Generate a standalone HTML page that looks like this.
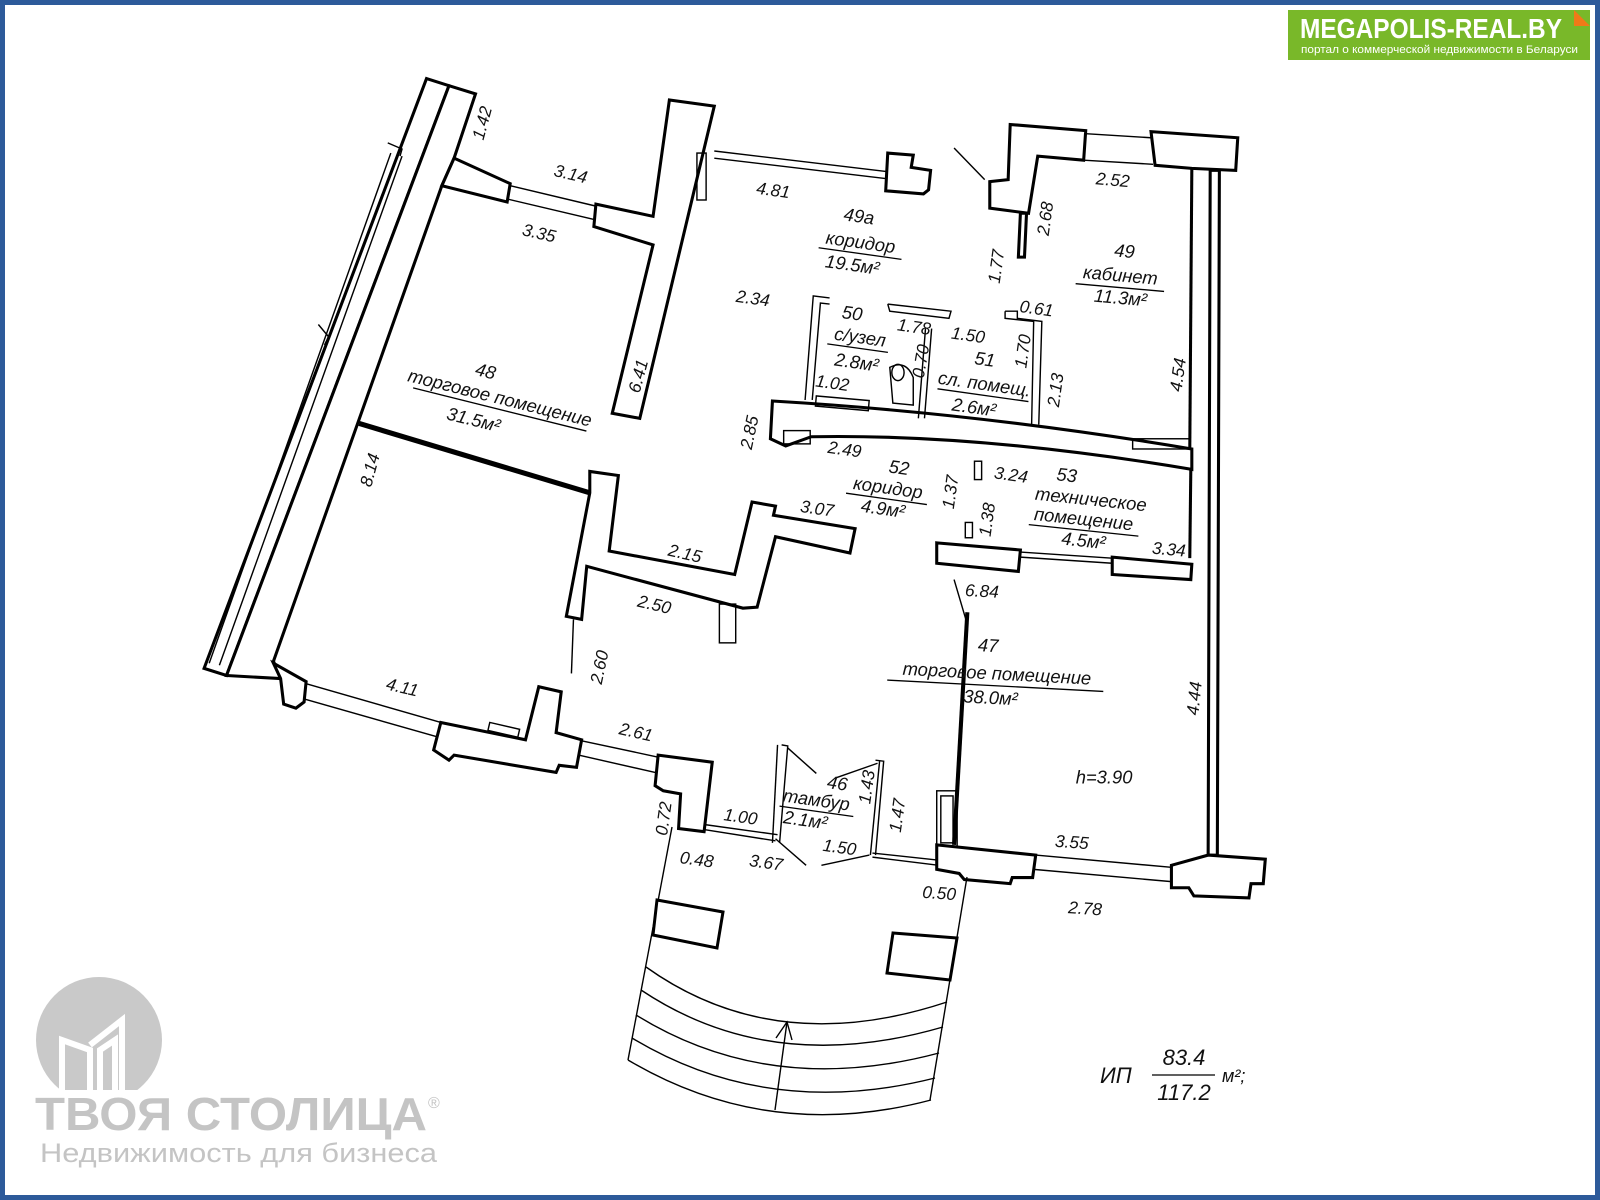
<!DOCTYPE html>
<html><head><meta charset="utf-8"><style>
html,body{margin:0;padding:0;background:#fff}
svg{display:block}
.w{fill:#fff;stroke:#000;stroke-width:3;stroke-linejoin:miter}
.t{fill:none;stroke:#000;stroke-width:1.4}
text{font-family:"Liberation Sans","DejaVu Sans",sans-serif;font-style:italic;fill:#111}
.d{font-size:17px}
.r{font-size:18px}
text.bn{fill:#fff;font-style:normal}
text.lg{fill:#c4c4c4;font-style:normal}
</style></head><body>
<svg width="1600" height="1200" viewBox="0 0 1600 1200" xmlns="http://www.w3.org/2000/svg">
<rect x="0" y="0" width="1600" height="1200" fill="#fff"/>
<rect x="2.5" y="2.5" width="1595" height="1195" fill="none" stroke="#2d5a9a" stroke-width="5"/>

<g transform="scale(1.0204)">
<polygon class="w" points="418,77 440,84 222,662 200,655"/>
<polygon class="w" points="440,84 466,92 445,155 433,182 268,648 275,665 222,662"/>
<line class="t" x1="383" y1="150" x2="205" y2="650"/>
<line class="t" x1="394" y1="153" x2="215" y2="652"/>
<polyline class="t" points="380,140 394,146 392,153"/>
<polyline class="t" points="312,318 322,330 318,338"/>
<polygon class="w" points="445,155 500,180 497,198 433,182"/>
<line class="t" x1="500" y1="182" x2="584" y2="202"/>
<line class="t" x1="497" y1="195" x2="582" y2="215"/>
<polygon class="w" points="584,200 640,212 656,98 700,104 627,410 600,405 640,240 582,222"/>
<line x1="352" y1="415" x2="578" y2="483" stroke="#000" stroke-width="5"/>
<polygon class="w" points="578,462 606,466 597,540 720,563 737,492 760,496 758,505 838,518 833,542 760,526 742,595 728,596 575,555 570,607 555,604 578,483"/>
<rect class="t" x="705" y="592" width="16" height="38"/>
<line class="t" x1="562" y1="607" x2="560" y2="660"/>
<polygon class="w" points="268,650 300,668 298,688 290,694 278,690 275,665"/>
<line class="t" x1="300" y1="670" x2="432" y2="708"/>
<line class="t" x1="298" y1="685" x2="428" y2="722"/>
<polygon class="w" points="432,708 515,725 528,673 550,678 545,718 570,725 565,752 548,750 545,757 445,740 440,745 425,735"/>
<rect class="t" x="480" y="708" width="30" height="8" transform="rotate(13 480 708)"/>
<line class="t" x1="570" y1="726" x2="645" y2="742"/>
<line class="t" x1="567" y1="740" x2="642" y2="757"/>
<polygon class="w" points="645,740 698,747 690,815 665,812 667,778 650,775 642,770"/>
<line class="t" x1="690" y1="808" x2="762" y2="818"/>
<line class="t" x1="690" y1="813" x2="760" y2="824"/>
<polyline class="t" points="766,730 772,731 764,826"/>
<polyline class="t" points="762,730 757,826"/>
<line class="t" x1="772" y1="733" x2="800" y2="758"/>
<line class="t" x1="820" y1="762" x2="860" y2="748"/>
<polyline class="t" points="858,745 866,746 858,838"/>
<line class="t" x1="862" y1="746" x2="853" y2="838"/>
<line class="t" x1="855" y1="836" x2="920" y2="843"/>
<line class="t" x1="855" y1="840" x2="920" y2="848"/>
<line class="t" x1="760" y1="822" x2="790" y2="848"/>
<line class="t" x1="805" y1="848" x2="852" y2="838"/>
<rect class="t" x="918" y="775" width="20" height="55"/>
<rect class="t" x="922" y="780" width="12" height="46"/>
<polygon class="w" points="918,828 1015,838 1012,860 992,860 990,866 945,862 940,856 918,852"/>
<line x1="948" y1="600" x2="935" y2="828" stroke="#000" stroke-width="4"/>
<line class="t" x1="935" y1="568" x2="948" y2="612"/>
<polygon class="w" points="918,532 1000,539 998,560 918,552"/>
<line class="t" x1="1000" y1="541" x2="1090" y2="547"/>
<line class="t" x1="1000" y1="546" x2="1090" y2="552"/>
<polygon class="w" points="1090,546 1168,553 1167,568 1090,563"/>
<line x1="1167" y1="460" x2="1166" y2="547" stroke="#000" stroke-width="3"/>
<polygon class="w" points="1186,167 1195,167 1193,838 1184,838"/>
<line class="t" x1="1015" y1="838" x2="1148" y2="850"/>
<line class="t" x1="1013" y1="852" x2="1148" y2="864"/>
<polygon class="w" points="1148,848 1184,838 1240,842 1238,866 1226,866 1224,880 1170,878 1165,870 1148,870"/>
<polygon class="w" points="990,122 1064,128 1062,157 1017,153 1008,209 970,204 970,178 988,176"/>
<line class="t" x1="1064" y1="131" x2="1128" y2="135"/>
<line class="t" x1="1062" y1="157" x2="1130" y2="161"/>
<polygon class="w" points="1128,129 1213,135 1211,167 1168,165 1132,162"/>
<line x1="1168" y1="165" x2="1166" y2="440" stroke="#000" stroke-width="3"/>
<polygon class="w" points="1000,209 1006,209 1004,252 998,252"/>
<line class="t" x1="935" y1="145" x2="965" y2="176"/>
<line class="t" x1="700" y1="148" x2="868" y2="168"/>
<line class="t" x1="700" y1="155" x2="868" y2="175"/>
<rect class="t" x="683" y="150" width="9" height="46"/>
<polygon class="w" points="870,150 895,152 893,164 912,167 910,186 905,190 868,187"/>
<path class="w" d="M757,393 Q960,405 1168,440 L1168,460 Q960,425 795,428 L770,437 L755,430 Z"/>
<rect class="t" x="768" y="422" width="26" height="13"/>
<rect class="t" x="1110" y="430" width="56" height="10"/>
<polyline class="t" points="813,292 797,290 789,392"/>
<polyline class="t" points="813,298 804,297 796,392"/>
<polyline class="t" points="870,298 932,305 930,312 872,305 870,298"/>
<polyline class="t" points="907,322 900,410"/>
<polyline class="t" points="913,322 906,410"/>
<polyline class="t" points="985,305 997,305 997,312 1021,315 1018,416"/>
<polyline class="t" points="985,305 985,312 1013,315 1011,416"/>
<path class="t" d="M872,360 L875,395 L895,397 L895,370 Q888,352 872,360 Z"/>
<ellipse class="t" cx="880" cy="365" rx="6" ry="8"/>
<rect class="t" x="800" y="388" width="52" height="10" transform="rotate(5 800 388)"/>
<rect class="t" x="955" y="452" width="7" height="18"/>
<rect class="t" x="946" y="512" width="7" height="15"/>

<text class="d" transform="translate(478,122) rotate(-75)" text-anchor="middle">1.42</text>
<text class="d" transform="translate(558,176) rotate(13)" text-anchor="middle">3.14</text>
<text class="d" transform="translate(527,234) rotate(13)" text-anchor="middle">3.35</text>
<text class="d" transform="translate(757,192) rotate(8)" text-anchor="middle">4.81</text>
<g transform="rotate(8 840 240)">
<text class="r" x="838" y="218" text-anchor="middle">49а</text>
<text class="r" x="843" y="243" text-anchor="middle">коридор</text>
<line x1="803" y1="248" x2="885" y2="248" stroke="#000" stroke-width="1.3"/>
<text class="r" x="838" y="266" text-anchor="middle">19.5м²</text>
</g>
<text class="d" transform="translate(737,298) rotate(8)" text-anchor="middle">2.34</text>
<g transform="rotate(8 840 330)">
<text class="r" x="832" y="314" text-anchor="middle">50</text>
<text class="r" x="843" y="336" text-anchor="middle">с/узел</text>
<line x1="812" y1="341" x2="872" y2="341" stroke="#000" stroke-width="1.3"/>
<text class="r" x="843" y="361" text-anchor="middle">2.8м²</text>
</g>
<text class="d" transform="translate(895,326) rotate(8)" text-anchor="middle">1.78</text>
<text class="d" transform="translate(815,381) rotate(8)" text-anchor="middle">1.02</text>
<text class="d" transform="translate(908,355) rotate(-80)" text-anchor="middle">0.70</text>
<text class="d" transform="translate(948,334) rotate(8)" text-anchor="middle">1.50</text>
<g transform="rotate(8 962 375)">
<text class="r" x="962" y="358" text-anchor="middle">51</text>
<text class="r" x="965" y="382" text-anchor="middle">сл. помещ.</text>
<line x1="920" y1="387" x2="1010" y2="387" stroke="#000" stroke-width="1.3"/>
<text class="r" x="958" y="406" text-anchor="middle">2.6м²</text>
</g>
<text class="d" transform="translate(1015,308) rotate(8)" text-anchor="middle">0.61</text>
<text class="d" transform="translate(1008,345) rotate(-82)" text-anchor="middle">1.70</text>
<text class="d" transform="translate(1040,383) rotate(-82)" text-anchor="middle">2.13</text>
<text class="d" transform="translate(982,262) rotate(-82)" text-anchor="middle">1.77</text>
<text class="d" transform="translate(1030,215) rotate(-82)" text-anchor="middle">2.68</text>
<text class="d" transform="translate(1090,182) rotate(5)" text-anchor="middle">2.52</text>
<g transform="rotate(5 1100 270)">
<text class="r" x="1100" y="252" text-anchor="middle">49</text>
<text class="r" x="1098" y="276" text-anchor="middle">кабинет</text>
<line x1="1055" y1="282" x2="1142" y2="282" stroke="#000" stroke-width="1.3"/>
<text class="r" x="1100" y="298" text-anchor="middle">11.3м²</text>
</g>
<text class="d" transform="translate(1160,368) rotate(-82)" text-anchor="middle">4.54</text>
<text class="d" transform="translate(631,370) rotate(-75)" text-anchor="middle">6.41</text>
<g transform="rotate(14 490 390)">
<text class="r" x="470" y="374" text-anchor="middle">48</text>
<text class="r" x="490" y="396" text-anchor="middle">торговое помещение</text>
<line x1="405" y1="401" x2="580" y2="401" stroke="#000" stroke-width="1.3"/>
<text class="r" x="470" y="423" text-anchor="middle">31.5м²</text>
</g>
<text class="d" transform="translate(368,462) rotate(-75)" text-anchor="middle">8.14</text>
<text class="d" transform="translate(740,425) rotate(-78)" text-anchor="middle">2.85</text>
<text class="d" transform="translate(827,446) rotate(8)" text-anchor="middle">2.49</text>
<g transform="rotate(8 870 480)">
<text class="r" x="878" y="463" text-anchor="middle">52</text>
<text class="r" x="870" y="484" text-anchor="middle">коридор</text>
<line x1="830" y1="489" x2="910" y2="489" stroke="#000" stroke-width="1.3"/>
<text class="r" x="868" y="505" text-anchor="middle">4.9м²</text>
</g>
<text class="d" transform="translate(937,483) rotate(-82)" text-anchor="middle">1.37</text>
<text class="d" transform="translate(990,471) rotate(8)" text-anchor="middle">3.24</text>
<g transform="rotate(6 1065 500)">
<text class="r" x="1042" y="474" text-anchor="middle">53</text>
<text class="r" x="1068" y="495" text-anchor="middle">техническое</text>
<text class="r" x="1063" y="515" text-anchor="middle">помещение</text>
<line x1="1010" y1="520" x2="1118" y2="520" stroke="#000" stroke-width="1.3"/>
<text class="r" x="1065" y="536" text-anchor="middle">4.5м²</text>
</g>
<text class="d" transform="translate(1145,544) rotate(5)" text-anchor="middle">3.34</text>
<text class="d" transform="translate(973,510) rotate(-82)" text-anchor="middle">1.38</text>
<text class="d" transform="translate(800,504) rotate(8)" text-anchor="middle">3.07</text>
<text class="d" transform="translate(670,548) rotate(13)" text-anchor="middle">2.15</text>
<text class="d" transform="translate(640,598) rotate(13)" text-anchor="middle">2.50</text>
<text class="d" transform="translate(593,655) rotate(-78)" text-anchor="middle">2.60</text>
<text class="d" transform="translate(962,585) rotate(3)" text-anchor="middle">6.84</text>
<g transform="rotate(3 975 660)">
<text class="r" x="967" y="639" text-anchor="middle">47</text>
<text class="r" x="977" y="666" text-anchor="middle">торговое помещение</text>
<line x1="870" y1="672" x2="1082" y2="672" stroke="#000" stroke-width="1.3"/>
<text class="r" x="972" y="690" text-anchor="middle">38.0м²</text>
</g>
<text class="d" transform="translate(1176,685) rotate(-84)" text-anchor="middle">4.44</text>
<text class="r" x="1082" y="768" text-anchor="middle">h=3.90</text>
<text class="d" transform="translate(393,679) rotate(13)" text-anchor="middle">4.11</text>
<text class="d" transform="translate(622,723) rotate(13)" text-anchor="middle">2.61</text>
<g transform="rotate(8 800 785)">
<text class="r" x="818" y="771" text-anchor="middle">46</text>
<text class="r" x="800" y="790" text-anchor="middle">тамбур</text>
<line x1="765" y1="795" x2="838" y2="795" stroke="#000" stroke-width="1.3"/>
<text class="r" x="792" y="811" text-anchor="middle">2.1м²</text>
</g>
<text class="d" transform="translate(855,772) rotate(-82)" text-anchor="middle">1.43</text>
<text class="d" transform="translate(885,800) rotate(-82)" text-anchor="middle">1.47</text>
<text class="d" transform="translate(656,803) rotate(-82)" text-anchor="middle">0.72</text>
<text class="d" transform="translate(725,806) rotate(8)" text-anchor="middle">1.00</text>
<text class="d" transform="translate(682,848) rotate(8)" text-anchor="middle">0.48</text>
<text class="d" transform="translate(750,851) rotate(8)" text-anchor="middle">3.67</text>
<text class="d" transform="translate(822,836) rotate(8)" text-anchor="middle">1.50</text>
<text class="d" transform="translate(1050,831) rotate(4)" text-anchor="middle">3.55</text>
<text class="d" transform="translate(920,881) rotate(4)" text-anchor="middle">0.50</text>
<text class="d" transform="translate(1063,896) rotate(4)" text-anchor="middle">2.78</text>
</g>

<line class="t" x1="672" y1="827" x2="628" y2="1060"/>
<line class="t" x1="967" y1="877" x2="930" y2="1100"/>
<path class="t" d="M646,967 Q775,1059 947,1002"/>
<path class="t" d="M641,990 Q771,1077 943,1027"/>
<path class="t" d="M636,1015 Q770,1098 939,1053"/>
<path class="t" d="M632,1038 Q768,1120 935,1078"/>
<path class="t" d="M628,1060 Q768,1143 931,1100"/>
<line class="t" x1="775" y1="1110" x2="787" y2="1022"/>
<polyline class="t" points="776,1038 787,1022 792,1040"/>
<polygon class="w" points="657,900 723,912 717,948 653,935"/>
<polygon class="w" points="893,933 957,938 950,980 887,973"/>

<text x="1100" y="1083" font-size="22">ИП</text>
<text x="1184" y="1065" font-size="22" text-anchor="middle">83.4</text>
<line x1="1152" y1="1075" x2="1215" y2="1075" stroke="#000" stroke-width="1.3"/>
<text x="1184" y="1100" font-size="22" text-anchor="middle">117.2</text>
<text x="1222" y="1082" font-size="18">м²;</text>

<rect x="1288" y="10" width="302" height="50" fill="#79b829"/>
<polygon points="1574,10 1590,26 1574,26" fill="#f07a18"/>
<text class="bn" x="1300" y="38" font-size="28" font-weight="bold" textLength="262" lengthAdjust="spacingAndGlyphs">MEGAPOLIS-REAL.BY</text>
<text class="bn" x="1301" y="53" font-size="11" textLength="277" lengthAdjust="spacingAndGlyphs">портал о коммерческой недвижимости в Беларуси</text>

<clipPath id="c"><rect x="0" y="950" width="200" height="140"/></clipPath>
<circle cx="99" cy="1040" r="63" fill="#c9c9c9" clip-path="url(#c)"/>
<g fill="none" stroke="#fff" stroke-width="6">
<path d="M62,1090 V1040 L90,1050 V1090"/>
<path d="M90,1045 L122,1020 V1090"/>
<path d="M100,1090 V1050 L115,1040 V1090"/>
</g>
<text class="lg" x="35" y="1130" font-size="46" font-weight="bold" textLength="392" lengthAdjust="spacingAndGlyphs">ТВОЯ СТОЛИЦА</text>
<text class="lg" x="428" y="1108" font-size="16">®</text>
<text class="lg" x="40" y="1162" font-size="27" textLength="397" lengthAdjust="spacingAndGlyphs">Недвижимость для бизнеса</text>
</svg>
</body></html>
